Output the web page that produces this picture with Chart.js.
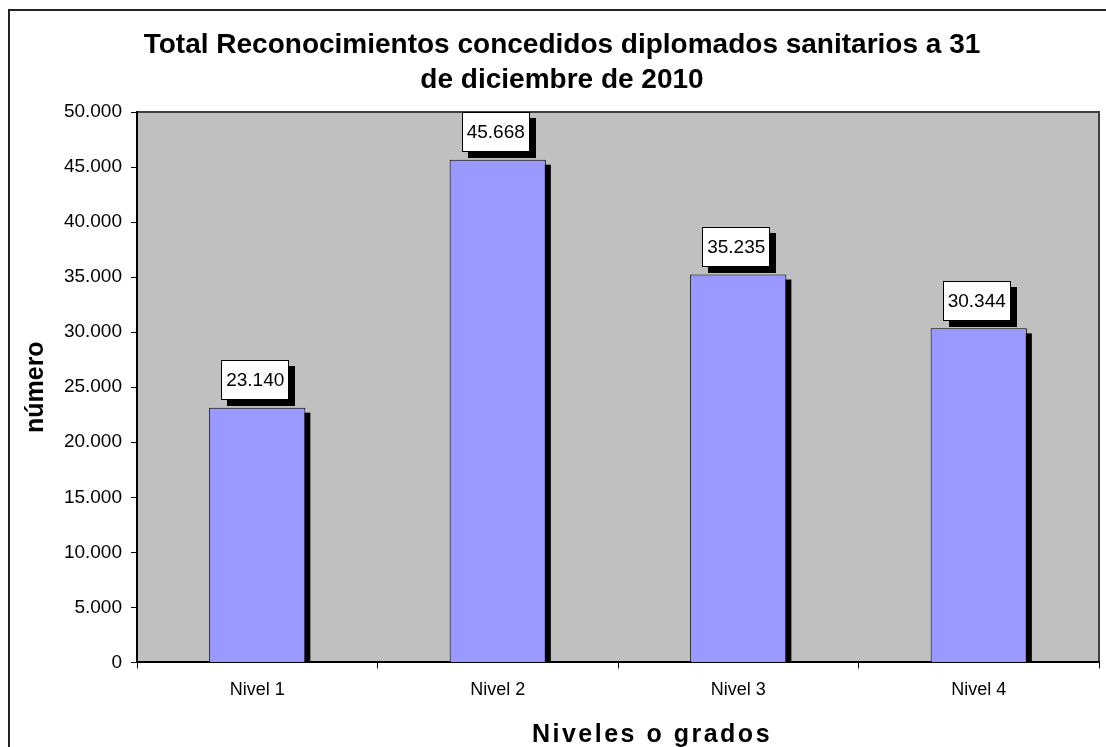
<!DOCTYPE html>
<html>
<head>
<meta charset="utf-8">
<script src="https://cdn.jsdelivr.net/npm/chart.js@4.4.0/dist/chart.umd.min.js"></script>
<style>
	html, body { margin: 0; padding: 0; background: #fff; }
	#wrap { width: 1106px; height: 747px; }
</style>
</head>
<body>
<div id="wrap"><canvas id="reconocimientos-chart"></canvas></div>
<script>
// datos del grafico
const niveles = ["Nivel 1", "Nivel 2", "Nivel 3", "Nivel 4"];
const reconocimientos = [23140, 45668, 35235, 30344];
const y_ticks = [0, 5000, 10000, 15000, 20000, 25000, 30000, 35000, 40000, 45000, 50000];
const titulo = [
	"Total Reconocimientos concedidos diplomados sanitarios a 31",
	"de diciembre de 2010",
];
const titulo_y = "número";
const titulo_x = "Niveles o grados";

const FUENTE = 'Arial, "Liberation Sans", sans-serif';

// 45668 -> "45.668"
const formatNumero = (v) => String(v).replace(/\B(?=(\d{3})+(?!\d))/g, ".");

// fondo gris del area de trazado y marco exterior
const fondo = {
	id: "fondo",
	beforeDraw(chart) {
		const { ctx, chartArea: a } = chart;
		ctx.save();
		ctx.fillStyle = "#C0C0C0";
		ctx.fillRect(a.left, a.top, a.right - a.left, a.bottom - a.top);
		ctx.strokeStyle = "#404040";
		ctx.lineWidth = 2;
		ctx.beginPath();
		ctx.moveTo(a.left, a.top);
		ctx.lineTo(a.right, a.top);
		ctx.lineTo(a.right, a.bottom);
		ctx.stroke();
		// marco del grafico
		ctx.strokeStyle = "#222";
		ctx.lineWidth = 2;
		ctx.strokeRect(9, 10, 1200, 1000);
		ctx.restore();
	},
};

// sombra negra a la derecha de cada barra
const sombras = {
	id: "sombras",
	beforeDatasetsDraw(chart) {
		const { ctx, chartArea: a } = chart;
		const meta = chart.getDatasetMeta(0);
		ctx.save();
		ctx.beginPath();
		ctx.rect(a.left, a.top, a.right - a.left, a.bottom - a.top);
		ctx.clip();
		ctx.fillStyle = "#000";
		meta.data.forEach((bar) => {
			const w = bar.width;
			ctx.fillRect(bar.x - w / 2 + 5, bar.y + 5, w, bar.base - bar.y);
		});
		ctx.restore();
	},
};

// cajas blancas con el valor encima de cada barra
const etiquetas = {
	id: "etiquetas",
	afterDatasetsDraw(chart) {
		const { ctx } = chart;
		const meta = chart.getDatasetMeta(0);
		ctx.save();
		ctx.font = "19px " + FUENTE;
		ctx.textAlign = "center";
		ctx.textBaseline = "middle";
		meta.data.forEach((bar, i) => {
			const txt = formatNumero(reconocimientos[i]);
			const w = Math.round(ctx.measureText(txt).width) + 10;
			const h = 40;
			const cx = bar.x - 2;
			const x = Math.round(cx - w / 2);
			const y = Math.round(bar.y - 7.5 - h);
			ctx.fillStyle = "#000";
			ctx.fillRect(x + 6, y + 6, w, h);
			ctx.fillStyle = "#fff";
			ctx.fillRect(x, y, w, h);
			ctx.strokeStyle = "#000";
			ctx.lineWidth = 1;
			ctx.strokeRect(x + 0.5, y + 0.5, w - 1, h - 1);
			ctx.fillStyle = "#000";
			ctx.fillText(txt, cx, y + h / 2 + 1);
		});
		ctx.restore();
	},
};

// titulo del eje x, con letras algo separadas
const tituloX = {
	id: "tituloX",
	afterDraw(chart) {
		const { ctx } = chart;
		ctx.save();
		ctx.font = "bold 25px " + FUENTE;
		ctx.letterSpacing = "2.5px";
		ctx.textAlign = "center";
		ctx.textBaseline = "middle";
		ctx.fillStyle = "#000";
		ctx.fillText(titulo_x, 652, 735);
		ctx.restore();
	},
};

const ctx_chart = document.getElementById("reconocimientos-chart").getContext("2d");

new Chart(ctx_chart, {
	type: "bar",
	data: {
		labels: niveles,
		datasets: [
			{
				data: reconocimientos,
				backgroundColor: "#9999FF",
				borderColor: "#000",
				borderWidth: 1,
				categoryPercentage: 1,
				barPercentage: 0.4,
			},
		],
	},
	options: {
		responsive: true,
		maintainAspectRatio: false,
		animation: false,
		events: [],
		layout: {
			padding: { left: 25, right: 7, top: 0, bottom: 35 },
		},
		plugins: {
			legend: { display: false },
			tooltip: { enabled: false },
			title: {
				display: true,
				text: titulo,
				color: "#000",
				font: { family: FUENTE, size: 28, weight: "bold", lineHeight: 1.25 },
				padding: { top: 28, bottom: 14 },
			},
		},
		scales: {
			x: {
				grid: {
					offset: true,
					drawOnChartArea: false,
					drawTicks: true,
					tickLength: 6,
					color: "#000",
				},
				border: { display: true, color: "#000", width: 2 },
				ticks: {
					color: "#000",
					padding: 11,
					font: { family: FUENTE, size: 18 },
				},
			},
			y: {
				min: 0,
				max: 50000,
				afterBuildTicks(scale) {
					scale.ticks = y_ticks.map((v) => ({ value: v }));
				},
				afterFit(scale) {
					scale.width = 112;
				},
				grid: {
					drawOnChartArea: false,
					drawTicks: true,
					tickLength: 6,
					color: "#000",
				},
				border: { display: true, color: "#000", width: 2 },
				ticks: {
					color: "#000",
					padding: 9,
					font: { family: FUENTE, size: 19 },
					callback: (v) => formatNumero(v),
				},
				title: {
					display: true,
					text: titulo_y,
					color: "#000",
					font: { family: FUENTE, size: 25, weight: "bold", lineHeight: 0.9 },
					padding: 0,
				},
			},
		},
	},
	plugins: [fondo, sombras, etiquetas, tituloX],
});
</script>
</body>
</html>
